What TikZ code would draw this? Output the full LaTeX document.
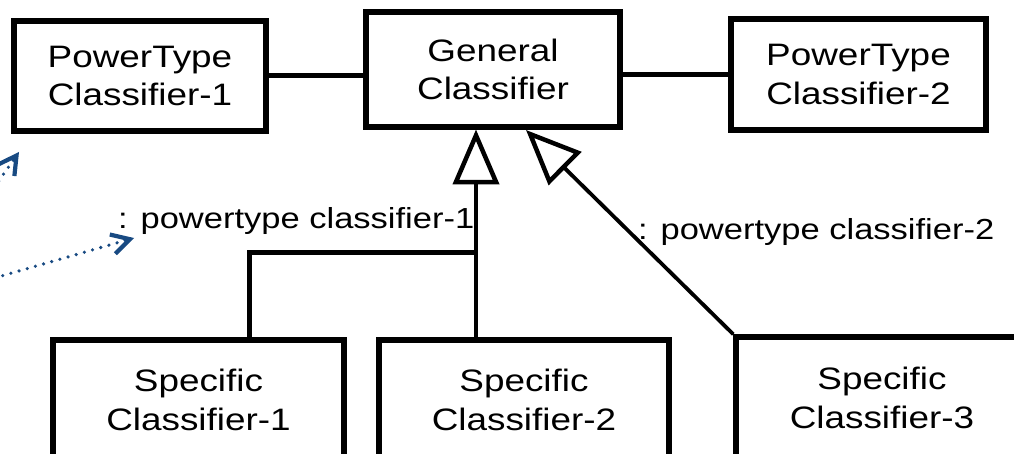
\documentclass[tikz,border=0pt]{standalone}
\usepackage{fontspec}
\setmainfont{Liberation Sans}[FakeStretch=1.19]
\usetikzlibrary{arrows.meta}
\definecolor{navyblue}{RGB}{24,74,130}
\tikzset{
  box/.style={draw=black, line width=5.5pt, inner sep=0pt, align=center,
    font=\fontsize{31}{38.5}\selectfont},
  conn/.style={draw=black, line width=5pt},
  genarrow/.style={draw=black, line width=4.5pt,
    -{Triangle[open, length=55pt, width=46pt, line width=4.5pt]}},
  lbl/.style={inner sep=0pt, font=\fontsize{29}{34}\selectfont},
  bluearrow/.style={draw=navyblue, line width=3.6pt, line cap=round,
    dash pattern=on 0pt off 8.5pt,
    -{Straight Barb[length=18pt, width=20pt, line width=4.2pt]}}
}
\begin{document}
\begin{tikzpicture}[x=1pt, y=-1pt]
\useasboundingbox (0,0) rectangle (1014,454);
% boxes
\node[box, minimum width=252pt, minimum height=110pt] (pt1) at (140,76) {PowerType\\Classifier-1};
\node[box, minimum width=254pt, minimum height=115pt] (gen) at (493,69.5) {General\\Classifier};
\node[box, minimum width=255pt, minimum height=111pt] (pt2) at (858.5,74.5) {PowerType\\Classifier-2};
\node[box, minimum width=291pt, minimum height=120pt] (s1) at (198.5,400) {Specific\\Classifier-1};
\node[box, minimum width=290pt, minimum height=120pt] (s2) at (524,400) {Specific\\Classifier-2};
\node[box, minimum width=292pt, minimum height=122pt] (s3) at (882,398) {Specific\\Classifier-3};
% attachment points
\coordinate (t1) at (476,129.5);
\coordinate (t2) at (526,130);
\coordinate (k1) at (249,253);
\coordinate (j1) at (474.5,253);
% associations
\draw[conn] (pt1.east) -- (pt1.east -| gen.west);
\draw[conn] (gen.east |- pt2.west) -- (pt2.west);
% generalizations
\draw[genarrow] (s2.north -| t1) -- (t1);
\draw[genarrow, line width=3.8pt] (s3.north west) -- (t2);
\draw[conn, line cap=rect] (s1.north -| k1) -- (k1) -- (j1);
% labels
\node[lbl, anchor=base west] (l1) at (118,229) {: powertype classifier-1};
\node[lbl, anchor=base west] (l2) at (638,240) {: powertype classifier-2};
% blue dotted arrows
\coordinate (a1s) at (-16,202);
\coordinate (a1e) at (19,152);
\coordinate (a2s) at (-30,285);
\coordinate (a2e) at (134,238);
\draw[bluearrow] (a1s) -- (a1e);
\draw[bluearrow] (a2s) -- (a2e);
\end{tikzpicture}
\end{document}
